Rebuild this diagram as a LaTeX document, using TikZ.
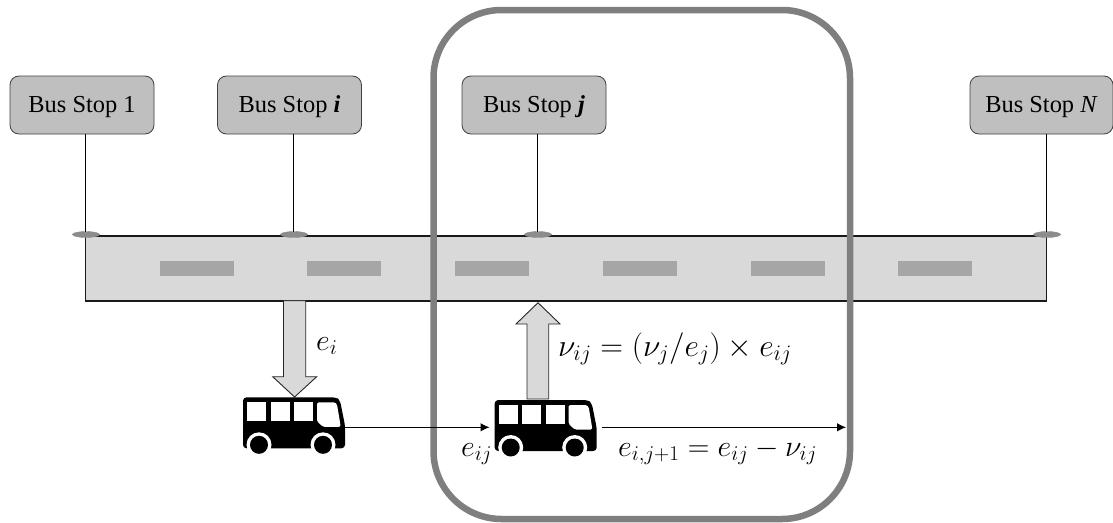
\documentclass[tikz,border=0pt]{standalone}
\usepackage{fix-cm}
\usepackage[no-math]{fontspec}
\setmainfont{Liberation Serif}
\usetikzlibrary{arrows.meta,shapes.geometric}
\definecolor{stopfill}{HTML}{BFBFBF}
\definecolor{roadfill}{HTML}{D9D9D9}
\definecolor{dashfill}{HTML}{A6A6A6}
\definecolor{framecol}{HTML}{7F7F7F}
\definecolor{ovalfill}{HTML}{8C8C8C}
\newcommand{\stoplabel}[1]{\raisebox{-2pt}[\height][\depth]{#1}}
\tikzset{
  x=1pt,y=-1pt,
  stopbox/.style={draw=black!75,line width=0.8pt,fill=stopfill,rounded corners=9pt,minimum width=144pt,minimum height=58pt,inner sep=0pt,font=\fontsize{24.4}{28}\selectfont,text=black},
  stopline/.style={draw=black,line width=1.3pt},
  oval/.style={ellipse,draw=black!45,line width=0.4pt,fill=ovalfill,minimum width=27pt,minimum height=6pt,inner sep=0pt},
  roadbox/.style={draw=black!90,line width=1.7pt,fill=roadfill,minimum width=961pt,minimum height=64.4pt,inner sep=0pt},
  lanemark/.style={fill=dashfill,draw=none,minimum width=74pt,minimum height=15pt,inner sep=0pt},
  bigarrow/.style={draw=black!85,line width=0.9pt,fill=roadfill,line join=miter},
  flow/.style={draw=black,line width=1pt,-{Latex[length=9pt,width=8.5pt]}},
  buspos/.style={minimum width=102pt,minimum height=20pt,inner sep=0pt,draw=none},
  mathlabel/.style={anchor=base west,inner sep=0pt,font=\fontsize{30}{34}\selectfont,text=black}
}
\newcommand{\busdraw}[2]{%
  \begin{scope}[shift={(#1,#2)}]
    \fill[black,rounded corners=3.5pt] (0,0) -- (93,0) -- (97,3) -- (102,28) -- (102,51) -- (0,51) -- cycle;
    \fill[white] (4,5) rectangle (23,23.5);
    \fill[white] (27.5,5) rectangle (46.5,23.5);
    \fill[white] (51,5) rectangle (70,23.5);
    \fill[white,rounded corners=1.5pt] (74,5) -- (92,5) -- (94,7) -- (97.7,29.5) -- (80,29.5) -- (74,24) -- cycle;
    \fill[white] (16,47.5) circle (12.5);
    \fill[white] (80,47.5) circle (12.5);
    \fill[black] (16,47.5) circle (9);
    \fill[black] (80,47.5) circle (9);
  \end{scope}}
\begin{document}
\begin{tikzpicture}
\useasboundingbox (0,0) rectangle (1113,522);
% road
\node[roadbox] (road) at (566,268.5) {};
\foreach \n/\cx in {a/197,b/344,c/492,d/640,e/788,f/935}{
  \node[lanemark] (lane\n) at (\cx,268.5) {};
}
% stops
\node[stopbox] (s1) at (82,105) {\stoplabel{Bus Stop 1}};
\node[stopbox] (si) at (289.5,105) {\stoplabel{Bus Stop \textbf{\textit{i}}}};
\node[stopbox] (sj) at (534,105) {\stoplabel{Bus Stop \textbf{\textit{j}}}};
\node[stopbox,minimum width=143pt] (sn) at (1041.5,105) {\stoplabel{Bus Stop \textit{N}}};
% poles
\node[oval] (o1) at (86,234.5) {};
\node[oval] (oi) at (294,234.5) {};
\node[oval] (oj) at (538,234.5) {};
\node[oval] (on) at (1047,234.5) {};
\draw[stopline] (85.5,134) -- (85.5,231.5);
\draw[stopline] (293.5,134) -- (293.5,231.5);
\draw[stopline] (537.5,134) -- (537.5,231.5);
\draw[stopline] (1046.5,134) -- (1046.5,231.5);
% frame
\draw[framecol,line width=6.5pt,rounded corners=68pt] (433.5,10) rectangle (850,519);
% thick arrows
\draw[bigarrow] (283.5,300.7) -- (305.7,300.7) -- (305.7,376.7) -- (316.7,376.7) -- (294.6,397) -- (272.7,376.7) -- (283.5,376.7) -- cycle;
\draw[bigarrow] (527,399) -- (527,324) -- (516,324) -- (538,302.7) -- (560,324) -- (548.7,324) -- (548.7,399) -- cycle;
% buses
\busdraw{243}{397.3}
\busdraw{494.7}{400}
\node[buspos] (bus1) at (294,427.3) {};
\node[buspos] (bus2) at (545.7,427.3) {};
\coordinate (exit) at (846,427.3);
\draw[flow,shorten >=5pt] (bus1.east) -- (bus2.west);
\draw[flow,shorten <=5pt] (bus2.east) -- (exit);
% labels
\node[mathlabel] (lei) at (316,350) {$e_i$};
\node[mathlabel,font=\fontsize{31.6}{36}\selectfont] (lnu) at (558,356) {$\nu_{ij}=(\nu_j/e_j)\times e_{ij}$};
\node[mathlabel] (leij) at (461,456) {$e_{ij}$};
\node[mathlabel] (lnext) at (618,456) {$e_{i,j+1}=e_{ij}-\nu_{ij}$};
\end{tikzpicture}
\end{document}
